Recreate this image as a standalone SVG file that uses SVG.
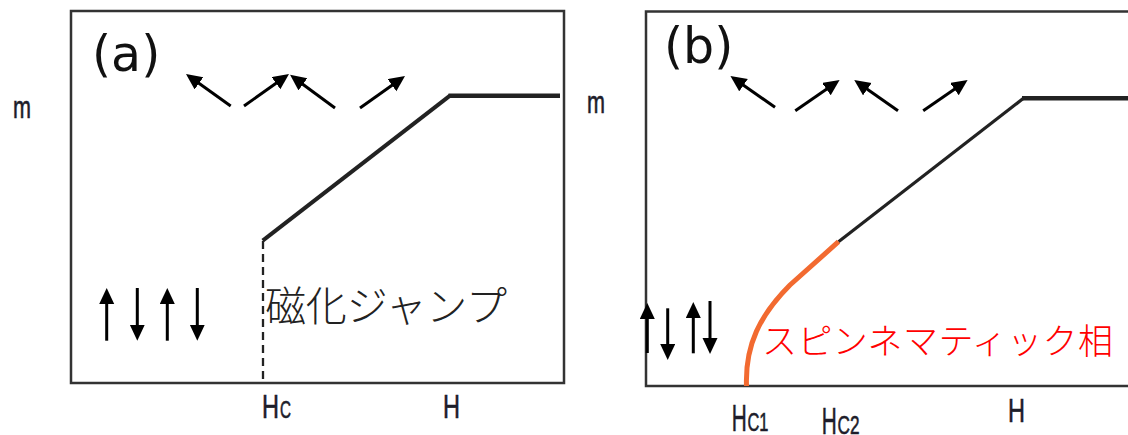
<svg xmlns="http://www.w3.org/2000/svg" width="1128" height="435" viewBox="0 0 1128 435">
<defs>
<style>
.box{fill:none;stroke:#333;stroke-width:2.5}
.curve{fill:none;stroke:#222;stroke-linejoin:miter;stroke-linecap:butt}
.arr{stroke:#000;stroke-width:3;fill:none;marker-end:url(#ah)}
.lab{font-family:"DejaVu Sans","Verdana",sans-serif;font-size:49px;fill:#111}
.ax{font-family:"Liberation Sans Narrow","Liberation Sans",Arial,sans-serif;fill:#1d1d2a;stroke:#1d1d2a;stroke-width:0.6}
.jp{font-family:"Noto Sans CJK JP","Noto Sans CJK SC",sans-serif;font-weight:300}
</style>
<marker id="ah" markerUnits="userSpaceOnUse" markerWidth="17" markerHeight="16" refX="7" refY="7.5" orient="auto" viewBox="0 0 17 16">
<path d="M0,0 L16,7.5 L0,15 Z" fill="#000"/>
</marker>
</defs>
<rect width="1128" height="435" fill="#fff"/>

<g id="panel-a">
<rect class="box" x="71" y="11" width="493" height="372"/>
<text class="lab" x="92" y="71">(a)</text>
<text class="ax" x="13" y="118" font-size="32" textLength="18" lengthAdjust="spacingAndGlyphs">m</text>
<g id="spins-a-top">
<line class="arr" x1="230.7" y1="106" x2="193.3" y2="79.3"/>
<line class="arr" x1="244" y1="106" x2="281.7" y2="79.2"/>
<line class="arr" x1="335" y1="108" x2="297.3" y2="80.2"/>
<line class="arr" x1="360" y1="108" x2="397.7" y2="81.2"/>
</g>
<g id="spins-a-bottom">
<line class="arr" x1="106.7" y1="340.7" x2="106.7" y2="297"/>
<line class="arr" x1="137.3" y1="288" x2="137.3" y2="331.7"/>
<line class="arr" x1="167.3" y1="340.7" x2="167.3" y2="297"/>
<line class="arr" x1="197.3" y1="288" x2="197.3" y2="331.7"/>
</g>
<polyline class="curve" stroke-width="4" points="262.7,240.7 450,95.7"/>
<polyline class="curve" stroke-width="4.5" points="448.5,95.7 560,95.7"/>
<line x1="263" y1="241" x2="263" y2="383" stroke="#222" stroke-width="2.3" stroke-dasharray="8,5"/>
<text class="jp" x="265" y="321" font-size="41" fill="#222" textLength="242" lengthAdjust="spacing">磁化ジャンプ</text>
<text class="ax" x="262" y="418" font-size="33" textLength="17" lengthAdjust="spacingAndGlyphs">H</text>
<text class="ax" x="280" y="418" font-size="24" textLength="11" lengthAdjust="spacingAndGlyphs">C</text>
<text class="ax" x="443" y="418" font-size="33" textLength="17" lengthAdjust="spacingAndGlyphs">H</text>
</g>

<g id="panel-b">
<rect class="box" x="646" y="11.5" width="500" height="374.5"/>
<text class="lab" x="664" y="63">(b)</text>
<text class="ax" x="587" y="112.5" font-size="32" textLength="18" lengthAdjust="spacingAndGlyphs">m</text>
<g id="spins-b-top">
<line class="arr" x1="775" y1="107.3" x2="737.8" y2="81.2"/>
<line class="arr" x1="795.3" y1="110.7" x2="832.2" y2="85.2"/>
<line class="arr" x1="898" y1="110.7" x2="861.6" y2="85.2"/>
<line class="arr" x1="923.2" y1="110.7" x2="960.2" y2="85.2"/>
</g>
<g id="spins-b-bottom">
<line class="arr" x1="647.3" y1="353" x2="647.3" y2="312"/>
<line class="arr" x1="667.7" y1="308.3" x2="667.7" y2="351"/>
<line class="arr" x1="693.3" y1="353.3" x2="693.3" y2="311"/>
<line class="arr" x1="710" y1="301" x2="710" y2="345"/>
</g>
<polyline class="curve" stroke-width="3.2" points="838.5,241.7 1023.5,98.3"/>
<polyline class="curve" stroke-width="4.5" points="1022,98.3 1130,98.3"/>
<path d="M746.5,386 C745,345 760,315 790,285 L838.5,241.7" fill="none" stroke="#f26a30" stroke-width="5"/>
<text class="jp" x="762" y="354" font-size="35" fill="#ff0000" textLength="351" lengthAdjust="spacing">スピンネマティック相</text>
<text class="ax" x="731.7" y="431" font-size="37" textLength="15" lengthAdjust="spacingAndGlyphs">H</text>
<text class="ax" x="747.5" y="431" font-size="26" textLength="21" lengthAdjust="spacingAndGlyphs">C1</text>
<text class="ax" x="821.7" y="433.5" font-size="37" textLength="15" lengthAdjust="spacingAndGlyphs">H</text>
<text class="ax" x="837.5" y="433.5" font-size="26" textLength="22" lengthAdjust="spacingAndGlyphs">C2</text>
<text class="ax" x="1008" y="422" font-size="33" textLength="17" lengthAdjust="spacingAndGlyphs">H</text>
</g>
</svg>
